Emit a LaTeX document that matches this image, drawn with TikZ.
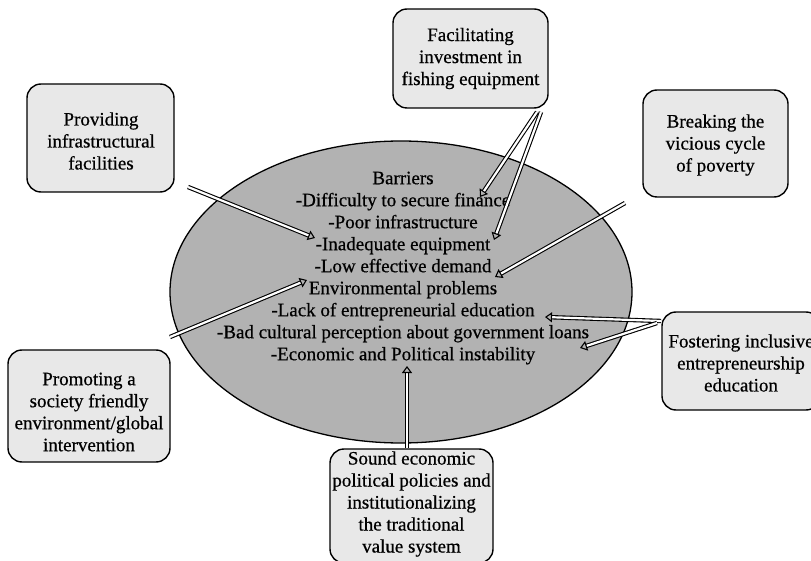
\documentclass[tikz,border=0pt]{standalone}
\usepackage{fontspec}
\setmainfont[RawFeature={embolden=0.6}]{Liberation Serif}
\usetikzlibrary{shapes.geometric,arrows.meta}
\definecolor{boxfill}{gray}{0.91}
\definecolor{ellfill}{gray}{0.70}
\tikzset{
  box/.style={draw=black, line width=1.4pt, fill=boxfill, rounded corners=14pt, inner sep=0pt},
  txt/.style={align=center, font=\fontsize{19}{22}\selectfont, inner sep=0pt},
  arr/.style={draw=black, line width=1.1pt, double=white, double distance=2.2pt,
    -{Triangle[open, length=7pt, width=10pt, line width=1.1pt]}},
}
\begin{document}
\begin{tikzpicture}[x=1pt,y=-1pt]
\useasboundingbox (0,0) rectangle (811,561);
\clip (0,0) rectangle (811,561);
% central ellipse
\node[ellipse, draw=black, line width=1.3pt, fill=ellfill, minimum width=462pt, minimum height=302pt, inner sep=0pt] (bar) at (401,292) {};
\node[txt] (bartxt) at (403,268) {Barriers\\-Difficulty to secure finance\\-Poor infrastructure\\-Inadequate equipment\\-Low effective demand\\Environmental problems\\-Lack of entrepreneurial education\\-Bad cultural perception about government loans\\-Economic and Political instability};
% boxes
\node[box, minimum width=155pt, minimum height=99pt] (fac) at (470.5,58.5) {};
\node[txt] at (fac.center) {Facilitating\\investment in\\fishing equipment};
\node[box, minimum width=147pt, minimum height=108pt] (prov) at (100.5,138) {};
\node[txt] at (101,141) {Providing\\infrastructural\\facilities};
\node[box, minimum width=145pt, minimum height=107pt] (brk) at (715.5,143.5) {};
\node[txt] at (715.5,145) {Breaking the\\vicious cycle\\of poverty};
\node[box, minimum width=162pt, minimum height=112pt] (prom) at (89,406) {};
\node[txt] at (89,412) {Promoting a\\society friendly\\environment/global\\intervention};
\node[box, minimum width=158pt, minimum height=98pt] (fos) at (741,361) {};
\node[txt] at (741,363) {Fostering inclusive\\entrepreneurship\\education};
\node[box, minimum width=163pt, minimum height=114pt] (snd) at (411.5,506) {};
\node[txt] at (411.5,504) {Sound economic\\political policies and\\institutionalizing\\the traditional\\value system};
% arrow ends
\coordinate (e1) at (480,197);
\coordinate (e2) at (494,240);
\coordinate (e3) at (315,238);
\coordinate (e4) at (495,277);
\coordinate (e5) at (307,280);
\coordinate (e6) at (545,317);
\coordinate (e7) at (580,348);
\coordinate (e8) at (407,366);
\coordinate (s1) at (537,112);
\coordinate (s2) at (541,112);
\coordinate (s3) at (188,187);
\coordinate (s4) at (625,203);
\coordinate (s5) at (170,337);
\coordinate (s6) at (661,321);
\coordinate (s7) at (657,323);
% arrows
\draw[arr] (s1) -- (e1);
\draw[arr] (s2) -- (e2);
\draw[arr] (s3) -- (e3);
\draw[arr] (s4) -- (e4);
\draw[arr] (s5) -- (e5);
\draw[arr] (s6) -- (e6);
\draw[arr] (s7) -- (e7);
\draw[arr] (snd.north -| e8) -- (e8);
\end{tikzpicture}
\end{document}
